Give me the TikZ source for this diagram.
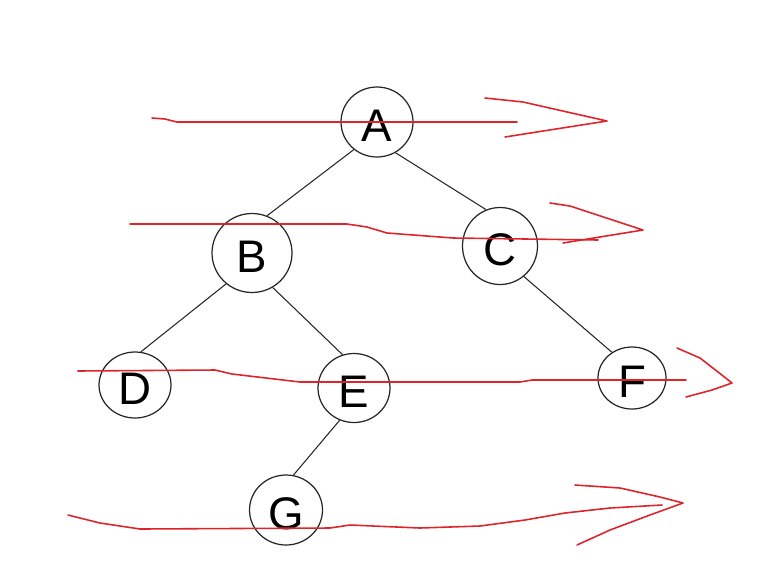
\documentclass[tikz,border=0pt]{standalone}
\usepackage{fontspec}
\setmainfont{Liberation Sans}
\usepackage{xcolor}
\definecolor{penred}{RGB}{222,36,42}
\usetikzlibrary{shapes.geometric}
\tikzset{
  vtx/.style={draw=black!85, line width=0.7pt, ellipse, inner sep=0pt,
              text height=0.78cm, text depth=0pt,
              font=\fontsize{26}{30}\selectfont},
  edge/.style={draw=black!85, line width=0.6pt},
  scribble/.style={penred, line width=0.9pt, line join=round, line cap=round}
}

\begin{document}
\begin{tikzpicture}[x=0.02cm, y=-0.02cm]
      \useasboundingbox (0,0) rectangle (780,572);
      % tree nodes
      \node[vtx, minimum width=72*0.02cm, minimum height=70*0.02cm] (A) at (377,122) {A};
      \node[vtx, minimum width=80*0.02cm, minimum height=79*0.02cm] (B) at (252,253) {B};
      \node[vtx, minimum width=75*0.02cm, minimum height=77*0.02cm] (C) at (500,246) {C};
      \node[vtx, minimum width=72*0.02cm, minimum height=66*0.02cm] (D) at (135,385) {D};
      \node[vtx, minimum width=72*0.02cm, minimum height=69*0.02cm] (E) at (354,388) {E};
      \node[vtx, minimum width=68*0.02cm, minimum height=62*0.02cm] (F) at (632,378) {F};
      \node[vtx, minimum width=73*0.02cm, minimum height=70*0.02cm] (G) at (286,510) {G};
      % branches
      \draw[edge] (A.230) -- (B.68);
      \draw[edge] (A.301) -- (C.111);
      \draw[edge] (B.230) -- (D.80);
      \draw[edge] (B.301) -- (E.109);
      \draw[edge] (C.308) -- (F.128);
      \draw[edge] (E.246) -- (G.78);
      % level 1 stroke
      \draw[scribble] (152,118) -- (165,119) -- (177,122) -- (517,122);
      \draw[scribble] (485,98) -- (523,102) -- (607,121) -- (505,137);
      % level 2 stroke
      \draw[scribble] (130,224) -- (347,224) -- (367,227) -- (387,233)
            -- (453,238) -- (598,240);
      \draw[scribble] (550,203) -- (570,206) -- (643,230) -- (563,243);
      % level 3 stroke
      \draw[scribble] (78,371) -- (215,370) -- (232,374) -- (300,382)
            -- (520,382) -- (532,380) -- (686,380);
      \draw[scribble] (677,348) -- (700,358) -- (718,372) -- (732,383)
            -- (712,390) -- (686,397);
      % level 4 stroke
      \draw[scribble] (68,515) -- (100,523) -- (140,529) -- (330,528)
            -- (350,525) -- (420,528) -- (480,526) -- (525,520)
            -- (565,513) -- (610,508) -- (662,505);
      \draw[scribble] (575,485) -- (620,488) -- (660,497) -- (683,503)
            -- (650,515) -- (610,530) -- (577,545);
\end{tikzpicture}
\end{document}
